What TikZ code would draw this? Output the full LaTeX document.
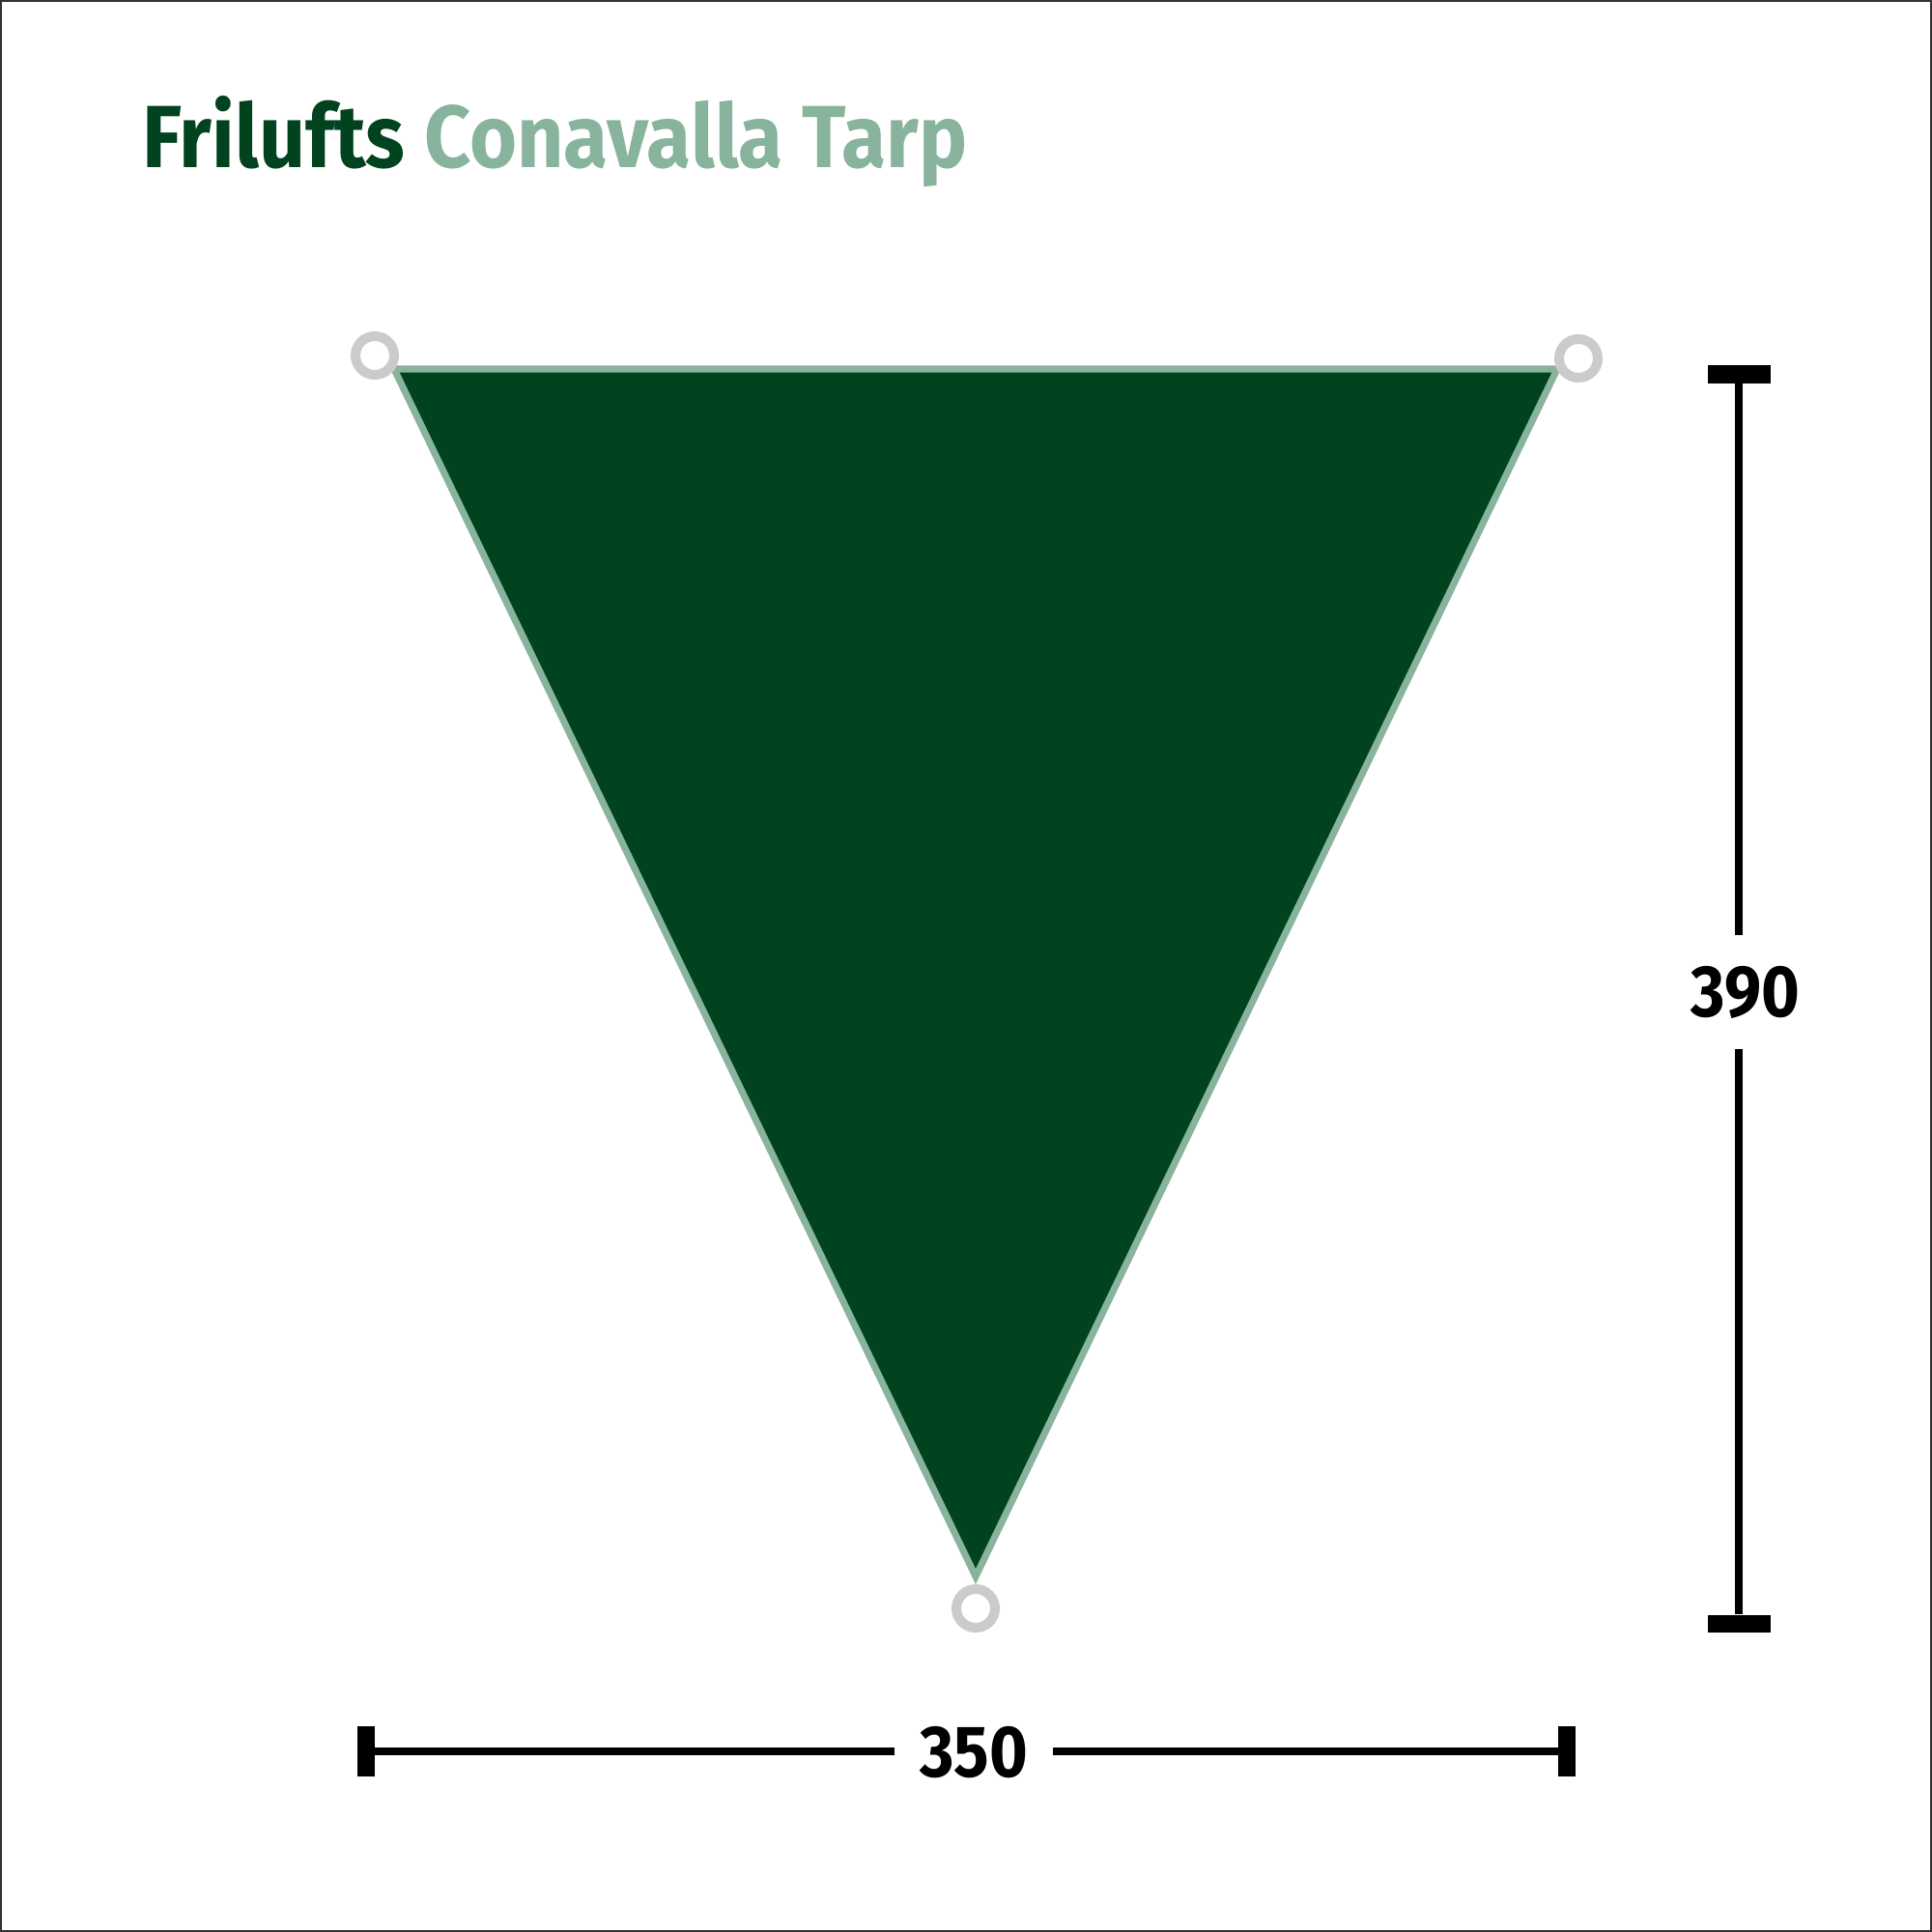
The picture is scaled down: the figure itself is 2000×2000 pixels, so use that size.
\documentclass[tikz,border=0pt]{standalone}
\usepackage{fontspec}
\usepackage{tikz}
\newfontfamily\titlefont[FakeStretch=0.92]{Fira Sans}
\newfontfamily\dimfont[FakeStretch=0.9]{Fira Sans}
\definecolor{tarpGreen}{HTML}{01421F}
\definecolor{tarpEdge}{HTML}{88B39D}
\definecolor{grommetGray}{HTML}{CBCBCB}
\definecolor{frameGray}{HTML}{333333}

\begin{document}
\begin{tikzpicture}[
  x=0.01cm,
  y=-0.01cm,
  tarp/.style={
    fill=tarpGreen,
    draw=tarpEdge,
    line width=0.07cm,
    line join=miter,
  },
  grommet/.style={
    circle,
    draw=grommetGray,
    fill=white,
    line width=0.1cm,
    minimum size=0.40cm,
    inner sep=0pt,
  },
  dim line/.style={
    draw=black,
    line width=0.08cm,
  },
  dim tick/.style={
    draw=black,
    line width=0.18cm,
  },
  dim label/.style={
    font=\dimfont\bfseries\fontsize{21.5pt}{24pt}\selectfont,
    inner sep=0pt,
  }
]
\useasboundingbox (0,0) rectangle (2000,2000);
\draw[frameGray,line width=0.02cm] (1,1) rectangle (1999,1999);

\node[anchor=base west,inner sep=0pt,
  font=\titlefont\bfseries\fontsize{26pt}{30pt}\selectfont] (title) at (147,173)
  {\textcolor{tarpGreen}{Frilufts} \textcolor{tarpEdge}{Conavalla Tarp}};

% tarp
\coordinate (tl) at (408,382);
\coordinate (tr) at (1612,382);
\coordinate (bt) at (1010,1632);
\draw[tarp] (tl) -- (tr) -- (bt) -- cycle;
\foreach \n/\p in {{gl/388,368},{gr/1634,371},{gb/1010,1665}}
  \node[grommet] (\n) at (\p) {};

% width
\node[dim label,minimum width=1.63cm] (w) at (1008,1814) {350};
\coordinate (wl) at (388,1813);
\coordinate (wr) at (1613,1813);
\draw[dim line] (wl) -- (wl -| w.west);
\draw[dim line] (wr -| w.east) -- (wr);
\draw[dim tick] (wl) ++(-9,-26) -- ++(0,52);
\draw[dim tick] (wr) ++(9,-26) -- ++(0,52);

% height
\node[dim label,minimum height=1.16cm] (h) at (1807,1027) {390};
\coordinate (ht) at (1800,397);
\coordinate (hb) at (1800,1671);
\draw[dim line] (ht) -- (ht |- h.north);
\draw[dim line] (hb |- h.south) -- (hb);
\draw[dim tick] (ht) ++(-32,-9.5) -- ++(65,0);
\draw[dim tick] (hb) ++(-32,9.5) -- ++(65,0);
\end{tikzpicture}
\end{document}
